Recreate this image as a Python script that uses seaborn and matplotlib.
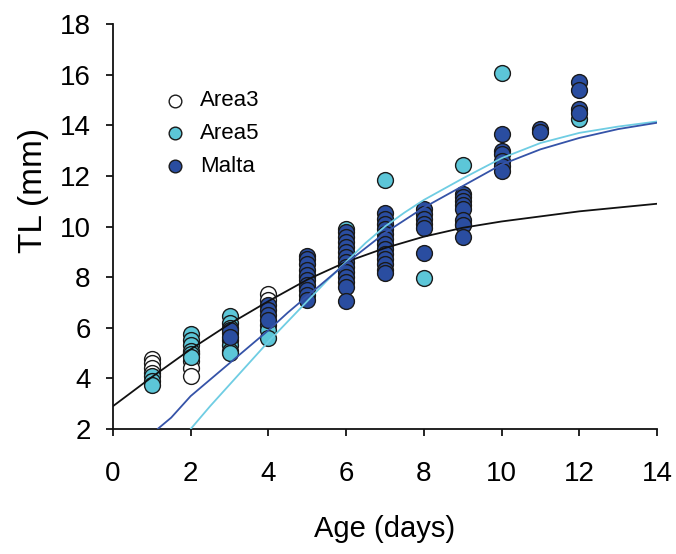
import numpy as np
import pandas as pd
import matplotlib
matplotlib.use("Agg")
import matplotlib.pyplot as plt
import seaborn as sns

# ---------------- data ----------------
area3_age = [1, 1, 1, 1, 2, 2, 2, 2, 4, 4]
area3_tl = [4.75, 4.6, 4.4, 4.2, 5.0, 4.7, 4.4, 4.1, 7.35, 7.1]

area5_age = [1, 1, 1,
             2, 2, 2, 2, 2, 2,
             3, 3, 3, 3, 3, 3, 3, 3,
             4, 4, 4,
             5, 5,
             6,
             7,
             8,
             9, 9,
             10,
             12]
area5_tl = [4.1, 3.9, 3.75,
            5.75, 5.5, 5.3, 5.1, 4.95, 4.85,
            6.45, 6.2, 6.0, 5.8, 5.5, 5.3, 5.1, 5.0,
            6.1, 5.9, 5.6,
            8.0, 7.6,
            9.9,
            11.85,
            7.95,
            12.45, 10.1,
            16.05,
            14.25]

malta_age = [3, 3,
             4, 4, 4, 4,
             5, 5, 5, 5, 5, 5, 5, 5, 5, 5,
             6, 6, 6, 6, 6, 6, 6, 6, 6, 6, 6, 6, 6,
             7, 7, 7, 7, 7, 7, 7, 7, 7, 7, 7, 7, 7,
             8, 8, 8, 8, 8, 8,
             9, 9, 9, 9, 9, 9, 9, 9,
             10, 10, 10, 10, 10, 10,
             11, 11,
             12, 12, 12, 12]
malta_tl = [5.9, 5.65,
            6.9, 6.7, 6.5, 6.3,
            8.85, 8.7, 8.5, 8.3, 8.1, 7.9, 7.7, 7.5, 7.3, 7.1,
            9.8, 9.6, 9.4, 9.2, 9.0, 8.8, 8.6, 8.4, 8.2, 8.0, 7.8, 7.6, 7.05,
            10.55, 10.3, 10.1, 9.9, 9.7, 9.5, 9.3, 9.1, 8.9, 8.7, 8.5, 8.3, 8.15,
            10.7, 10.5, 10.3, 10.1, 9.95, 8.95,
            11.3, 11.15, 11.0, 10.85, 10.7, 10.25, 10.05, 9.6,
            13.65, 13.0, 12.85, 12.6, 12.4, 12.2,
            13.85, 13.75,
            15.7, 15.4, 14.65, 14.5]

# fitted growth curves
fit_area3_age = [0, 1, 2, 3, 4, 5, 6, 7, 8, 9, 10, 11, 12, 13, 14]
fit_area3_tl = [2.9, 4.05, 5.15, 6.15, 7.05, 7.9, 8.6, 9.15, 9.6, 9.95, 10.2, 10.4, 10.6, 10.75, 10.9]

fit_area5_age = [2.0, 2.5, 3, 3.5, 4, 4.5, 5, 5.5, 6, 6.5, 7, 7.5, 8, 9, 10, 11, 12, 13, 14]
fit_area5_tl = [2.0, 2.9, 3.75, 4.6, 5.45, 6.25, 7.05, 7.85, 8.6, 9.35, 10.0, 10.55, 11.05, 11.9, 12.7, 13.3, 13.7, 13.95, 14.15]

fit_malta_age = [1.15, 1.5, 2, 2.5, 3, 3.5, 4, 4.5, 5, 5.5, 6, 6.5, 7, 7.5, 8, 9, 10, 11, 12, 13, 14]
fit_malta_tl = [2.0, 2.45, 3.3, 3.95, 4.6, 5.25, 5.9, 6.6, 7.25, 7.9, 8.55, 9.15, 9.75, 10.25, 10.75, 11.6, 12.45, 13.05, 13.5, 13.85, 14.1]

groups = ["Area3", "Area5", "Malta"]
x_ticks = [0, 2, 4, 6, 8, 10, 12, 14]
y_ticks = [2, 4, 6, 8, 10, 12, 14, 16, 18]

fill_colors = {"Area3": "#FFFFFF", "Area5": "#5CC6D8", "Malta": "#2A4DA0"}
line_colors = {"Area3": "#111111", "Area5": "#6FCDE3", "Malta": "#3553A8"}

# ---------------- build tables ----------------
pts = pd.concat([
    pd.DataFrame({"age": area3_age, "tl": area3_tl, "group": "Area3"}),
    pd.DataFrame({"age": area5_age, "tl": area5_tl, "group": "Area5"}),
    pd.DataFrame({"age": malta_age, "tl": malta_tl, "group": "Malta"}),
], ignore_index=True)

fits = {
    "Area3": pd.DataFrame({"age": fit_area3_age, "tl": fit_area3_tl}),
    "Area5": pd.DataFrame({"age": fit_area5_age, "tl": fit_area5_tl}),
    "Malta": pd.DataFrame({"age": fit_malta_age, "tl": fit_malta_tl}),
}

# ---------------- plot ----------------
sns.set_theme(style="ticks")
plt.rcParams["font.family"] = ["Liberation Sans", "DejaVu Sans"]
plt.rcParams["text.color"] = "black"
plt.rcParams["axes.labelcolor"] = "black"
plt.rcParams["xtick.color"] = "black"
plt.rcParams["ytick.color"] = "black"

fig = plt.figure(figsize=(6.76, 5.54), dpi=100)
ax = fig.add_axes([0.167, 0.2256, 0.805, 0.731])

for g in groups:
    sns.scatterplot(data=pts[pts["group"] == g], x="age", y="tl",
                    color=fill_colors[g], edgecolor="#1a1a1a", linewidth=1.0,
                    s=130, ax=ax, label=g, zorder=3, clip_on=False)

for g in groups:
    sns.lineplot(data=fits[g], x="age", y="tl", sort=False, color=line_colors[g],
                 linewidth=1.3, ax=ax, zorder=4, legend=False)

ax.set_xlim(0, 14)
ax.set_ylim(2, 18)
ax.set_xticks(x_ticks)
ax.set_yticks(y_ticks)
ax.tick_params(axis="both", direction="out", length=5, width=1.2, colors="black",
               labelsize=20)
ax.tick_params(axis="x", pad=18)
ax.tick_params(axis="y", pad=11)
sns.despine(ax=ax)
for sp in ["left", "bottom"]:
    ax.spines[sp].set_linewidth(1.3)
    ax.spines[sp].set_color("#111111")

ax.set_xlabel("Age (days)", fontsize=21, labelpad=20)
ax.set_ylabel("TL (mm)", fontsize=24)
ax.yaxis.set_label_coords(-0.118, 0.59)

leg = ax.legend(loc="upper left", bbox_to_anchor=(0.077, 0.858), frameon=False,
                fontsize=16, handlelength=1.0, handletextpad=0.64,
                labelspacing=0.52, markerscale=0.8, borderaxespad=0)
for t in leg.get_texts():
    t.set_color("black")

fig.savefig("out.png", dpi=100)
